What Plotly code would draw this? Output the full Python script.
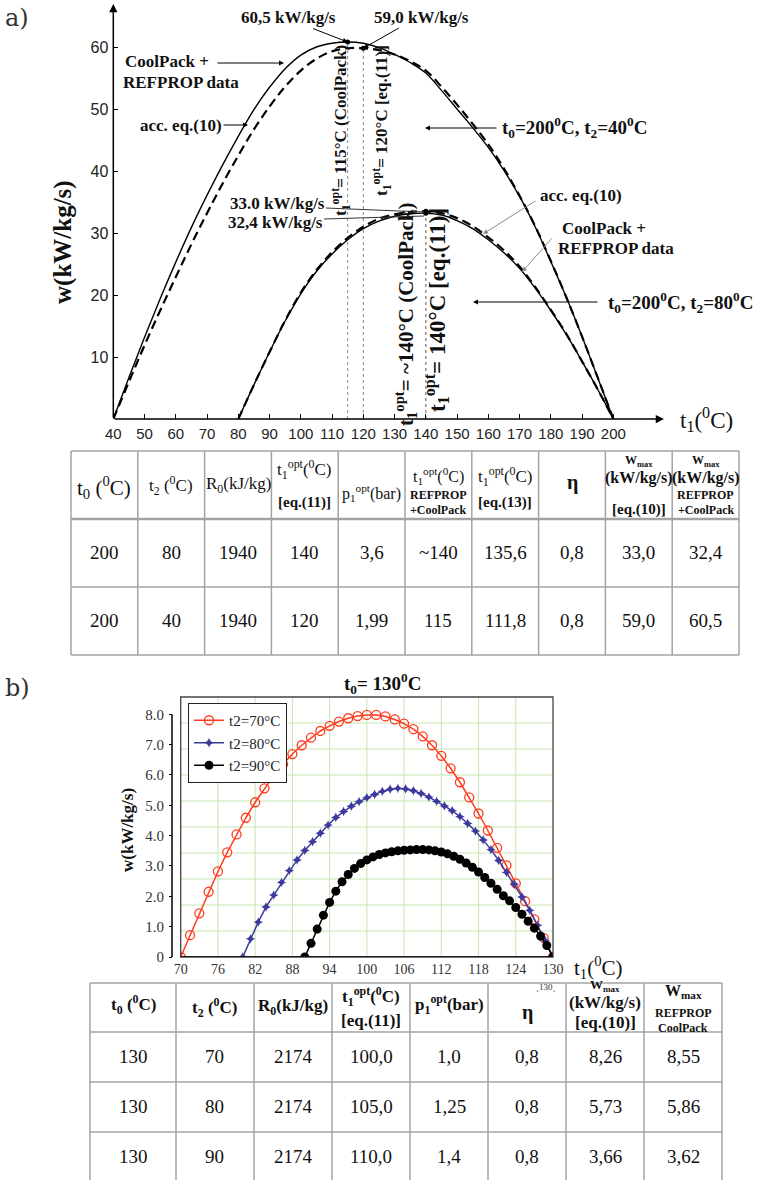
import plotly.graph_objects as go

W, H = 764, 1180
SERIF = "Liberation Serif"
SANS = "Liberation Sans"

# ---------------- panel a) data (read from the picture) ----------------
t1_a40 = [40, 45, 50, 55, 60, 65, 70, 75, 80, 85, 90, 95, 100, 105, 110, 115, 120,
          125, 130, 135, 140, 145, 150, 155, 160, 165, 170, 175, 180, 185, 190, 195, 200]
w_a40_coolpack = [0, 6.7, 13.2, 19.4, 25.3, 30.9, 36.1, 41.0, 45.6, 49.9, 53.5, 56.5, 58.7,
                  60.0, 60.6, 60.8, 60.6, 59.9, 58.8, 57.5, 55.8, 53.0, 50.0, 47.0, 43.8,
                  40.1, 35.9, 31.0, 25.4, 19.6, 13.3, 6.7, 0]
w_a40_eq10 = [0, 6.0, 11.9, 17.5, 22.9, 28.2, 33.2, 38.0, 42.5, 46.7, 50.4, 53.6, 56.2,
              58.1, 59.3, 59.8, 59.8, 59.5, 58.8, 57.7, 56.2, 53.6, 50.7, 47.6, 44.3,
              40.4, 36.0, 31.1, 25.5, 19.6, 13.3, 6.7, 0]
t1_a80 = [80, 85, 90, 95, 100, 105, 110, 115, 120, 125, 130, 135, 140, 145, 150, 155,
          160, 165, 170, 175, 180, 185, 190, 195, 200]
w_a80_coolpack = [0, 5.5, 10.8, 15.8, 20.2, 23.8, 26.6, 28.9, 30.7, 31.9, 32.7, 33.1, 33.2,
                  32.9, 32.0, 30.7, 28.9, 26.8, 24.3, 21.1, 17.5, 13.6, 9.3, 4.8, 0]
w_a80_eq10 = [0, 5.5, 10.8, 15.9, 20.4, 24.0, 26.9, 29.2, 31.0, 32.3, 33.0, 33.4, 33.5,
              33.2, 32.4, 31.1, 29.3, 27.2, 24.6, 21.3, 17.6, 13.7, 9.3, 4.8, 0]
t1_opt_coolpack = [115, 140]
w_max_coolpack = [60.8, 33.2]
t1_opt_eq11 = [120, 140]
w_max_eq10 = [59.8, 33.5]
x_ticks_a = [40, 50, 60, 70, 80, 90, 100, 110, 120, 130, 140, 150, 160, 170, 180, 190, 200]
y_ticks_a = [10, 20, 30, 40, 50, 60]

# ---------------- panel b) data ----------------
t_70 = [70, 71.5, 73, 74.5, 76, 77.5, 79, 80.5, 82, 83.5, 85, 86.5, 88, 89.5, 91, 92.5, 94,
        95.5, 97, 98.5, 100, 101.5, 103, 104.5, 106, 107.5, 109, 110.5, 112, 113.5, 115,
        116.5, 118, 119.5, 121, 122.5, 124, 125.5, 127, 128.5, 130]
w_70 = [0, 0.72, 1.44, 2.15, 2.82, 3.45, 4.04, 4.59, 5.1, 5.56, 5.98, 6.36, 6.69, 6.98,
        7.23, 7.45, 7.62, 7.76, 7.87, 7.94, 7.98, 7.98, 7.93, 7.83, 7.69, 7.51, 7.27, 6.98,
        6.63, 6.22, 5.76, 5.26, 4.73, 4.17, 3.6, 3.02, 2.43, 1.84, 1.24, 0.63, 0]
t_80 = [80, 81.25, 82.5, 83.75, 85, 86.25, 87.5, 88.75, 90, 91.25, 92.5, 93.75, 95, 96.25,
        97.5, 98.75, 100, 101.25, 102.5, 103.75, 105, 106.25, 107.5, 108.75, 110, 111.25,
        112.5, 113.75, 115, 116.25, 117.5, 118.75, 120, 121.25, 122.5, 123.75, 125, 126.25,
        127.5, 128.75, 130]
w_80 = [0, 0.6, 1.15, 1.65, 2.04, 2.46, 2.85, 3.2, 3.51, 3.8, 4.08, 4.35, 4.6, 4.8, 4.97,
        5.12, 5.25, 5.36, 5.46, 5.53, 5.56, 5.54, 5.48, 5.39, 5.27, 5.13, 4.98, 4.82, 4.63,
        4.4, 4.15, 3.86, 3.54, 3.18, 2.79, 2.4, 1.98, 1.54, 1.05, 0.54, 0]
t_90 = [90, 91, 92, 93, 94, 95, 96, 97, 98, 99, 100, 101, 102, 103, 104, 105, 106, 107, 108,
        109, 110, 111, 112, 113, 114, 115, 116, 117, 118, 119, 120, 121, 122, 123, 124, 125,
        126, 127, 128, 129, 130]
w_90 = [0, 0.45, 0.92, 1.38, 1.8, 2.17, 2.48, 2.72, 2.92, 3.08, 3.2, 3.3, 3.38, 3.43, 3.47,
        3.5, 3.52, 3.53, 3.54, 3.54, 3.53, 3.5, 3.46, 3.4, 3.32, 3.22, 3.1, 2.96, 2.8, 2.62,
        2.43, 2.23, 2.02, 1.85, 1.63, 1.41, 1.18, 0.95, 0.69, 0.38, 0]
series_b_names = ["t2=70°C", "t2=80°C", "t2=90°C"]
x_ticks_b = [70, 76, 82, 88, 94, 100, 106, 112, 118, 124, 130]
y_ticks_b = [0, 1, 2, 3, 4, 5, 6, 7, 8]
y_ticklabels_b = ["0", "1.0", "2.0", "3.0", "4.0", "5.0", "6.0", "7.0", "8.0"]
y_max_b = 8.57

# ---------------- tables ----------------
table_a_rows = [
    ["200", "80", "1940", "140", "3,6", "~140", "135,6", "0,8", "33,0", "32,4"],
    ["200", "40", "1940", "120", "1,99", "115", "111,8", "0,8", "59,0", "60,5"],
]
table_b_rows = [
    ["130", "70", "2174", "100,0", "1,0", "0,8", "8,26", "8,55"],
    ["130", "80", "2174", "105,0", "1,25", "0,8", "5,73", "5,86"],
    ["130", "90", "2174", "110,0", "1,4", "0,8", "3,66", "3,62"],
]


def PX(x):
    return x / W


def PY(y):
    return 1 - y / H


# pixel layout of panel a axes
A_X0, A_X1, A_XPER = 113.3, 665.0, 3.125
A_Y0, A_YTOP, A_YPER = 419.0, 5.0, 6.2


def tA(px):
    return 40 + (px - A_X0) / A_XPER


def wA(py):
    return (A_Y0 - py) / A_YPER


fig = go.Figure()

# ---- panel a curves ----
fig.add_trace(go.Scatter(x=t1_a40, y=w_a40_coolpack, mode="lines",
                         line=dict(color="black", width=1.4, shape="spline"),
                         showlegend=False, xaxis="x", yaxis="y"))
fig.add_trace(go.Scatter(x=t1_a40, y=w_a40_eq10, mode="lines",
                         line=dict(color="black", width=2.2, dash="9px,5px", shape="spline"),
                         showlegend=False, xaxis="x", yaxis="y"))
fig.add_trace(go.Scatter(x=t1_a80, y=w_a80_coolpack, mode="lines",
                         line=dict(color="black", width=1.4, shape="spline"),
                         showlegend=False, xaxis="x", yaxis="y"))
fig.add_trace(go.Scatter(x=t1_a80, y=w_a80_eq10, mode="lines",
                         line=dict(color="black", width=2.2, dash="9px,5px", shape="spline"),
                         showlegend=False, xaxis="x", yaxis="y"))
fig.add_trace(go.Scatter(x=t1_opt_coolpack + t1_opt_eq11, y=w_max_coolpack + w_max_eq10,
                         mode="markers", marker=dict(size=5, color="black"),
                         showlegend=False, xaxis="x", yaxis="y"))

# dotted verticals at optimum temperatures
for tx, wy in zip(t1_opt_coolpack + t1_opt_eq11, w_max_coolpack + w_max_eq10):
    fig.add_shape(type="line", xref="x", yref="y", x0=tx, x1=tx, y0=0, y1=wy,
                  line=dict(color="#8a8a8a", width=1, dash="dot"), layer="below")

# ---- panel b curves ----
RED, BLUE, BLK = "#ff3b1c", "#3d3a9e", "#000000"
fig.add_trace(go.Scatter(x=t_70, y=w_70, mode="lines+markers", name=series_b_names[0],
                         line=dict(color=RED, width=1.5),
                         marker=dict(symbol="circle-open", size=9, color=RED, line=dict(width=1.3)),
                         xaxis="x2", yaxis="y2"))
fig.add_trace(go.Scatter(x=t_80, y=w_80, mode="lines+markers", name=series_b_names[1],
                         line=dict(color=BLUE, width=1.5),
                         marker=dict(symbol="star-diamond", size=7, color=BLUE),
                         xaxis="x2", yaxis="y2"))
fig.add_trace(go.Scatter(x=t_90, y=w_90, mode="lines+markers", name=series_b_names[2],
                         line=dict(color=BLK, width=1.5),
                         marker=dict(symbol="circle", size=9, color=BLK),
                         xaxis="x2", yaxis="y2"))

# green grid (10 divisions each way) of panel b
for k in range(1, 10):
    gx = x_ticks_b[0] + k * (x_ticks_b[-1] - x_ticks_b[0]) / 10
    gy = k * y_max_b / 10
    fig.add_shape(type="line", xref="x2", yref="y2 domain", x0=gx, x1=gx, y0=0, y1=1,
                  line=dict(color="#c4e6b2", width=1), layer="below")
    fig.add_shape(type="line", xref="x2 domain", yref="y2", x0=0, x1=1, y0=gy, y1=gy,
                  line=dict(color="#c4e6b2", width=1), layer="below")
fig.add_shape(type="rect", xref="x2 domain", yref="y2 domain", x0=0, x1=1, y0=0, y1=1,
              line=dict(color="#444", width=1.3))
fig.add_shape(type="line", xref="x2 domain", yref="y2", x0=0, x1=1, y0=0, y1=0,
              line=dict(color="#000", width=1.6))
fig.add_shape(type="line", xref="paper", yref="y2", x0=PX(172), x1=PX(172), y0=0,
              y1=y_ticks_b[-1], line=dict(color="#000", width=1.5))

# ---- layout / axes ----
fig.update_layout(
    width=W, height=H, autosize=False, margin=dict(l=0, r=0, t=0, b=0, pad=0),
    paper_bgcolor="white", plot_bgcolor="white",
    font=dict(family=SERIF, color="#111"),
    xaxis=dict(domain=[PX(A_X0), PX(A_X1)], range=[40, tA(A_X1)], anchor="y",
               tickvals=x_ticks_a, ticks="inside", ticklen=5, tickwidth=1, tickcolor="black",
               showgrid=False, zeroline=False, showline=False, automargin=False,
               tickfont=dict(family=SANS, size=15, color="#222"), ticklabelstandoff=4),
    yaxis=dict(domain=[PY(A_Y0), PY(A_YTOP)], range=[0, wA(A_YTOP)], anchor="x",
               tickvals=y_ticks_a, ticks="inside", ticklen=5, tickwidth=1, tickcolor="black",
               showgrid=False, zeroline=False, showline=False, automargin=False,
               tickfont=dict(family=SANS, size=16, color="#222"), ticklabelstandoff=4),
    xaxis2=dict(domain=[PX(180.7), PX(553)], range=[70, 130], anchor="y2",
                tickvals=x_ticks_b, ticks="", showgrid=False, zeroline=False, showline=False,
                automargin=False,
                tickfont=dict(family=SERIF, size=14, color="#333"), ticklabelstandoff=2),
    yaxis2=dict(domain=[PY(957), PY(697)], range=[0, y_max_b], anchor="free",
                position=PX(172), tickvals=y_ticks_b, ticktext=y_ticklabels_b,
                ticks="outside", ticklen=3, tickcolor="#000", automargin=False,
                showgrid=False, zeroline=False, showline=False,
                tickfont=dict(family=SERIF, size=15, color="#333"), ticklabelstandoff=2),
    legend=dict(x=PX(188), y=PY(703), xanchor="left", yanchor="top", bgcolor="white",
                bordercolor="#222", borderwidth=1, tracegroupgap=0,
                font=dict(family=SERIF, size=15, color="#222")),
)


def txt(x, y, s, size, bold=False, angle=0, xanchor="center", color="#111", family=SERIF):
    fig.add_annotation(xref="paper", yref="paper", x=PX(x), y=PY(y),
                       text=f"<b>{s}</b>" if bold else s, showarrow=False,
                       font=dict(family=family, size=size, color=color),
                       xanchor=xanchor, yanchor="middle", textangle=angle)


def arrow(tx, ty, dx, dy, xref="x", yref="y", color="black", width=1, head=2, size=1.0):
    fig.add_annotation(x=tx, y=ty, xref=xref, yref=yref, ax=dx, ay=dy,
                       axref="pixel", ayref="pixel", text="", showarrow=True,
                       arrowhead=head, arrowsize=size, arrowwidth=width, arrowcolor=color)


def seg(x0, y0, x1, y1, color="#333", width=1):
    fig.add_shape(type="line", xref="paper", yref="paper", x0=PX(x0), x1=PX(x1),
                  y0=PY(y0), y1=PY(y1), line=dict(color=color, width=width))


# axes arrows of panel a
fig.add_annotation(x=tA(664), y=0, ax=40, ay=0, xref="x", yref="y", axref="x", ayref="y",
                   text="", showarrow=True, arrowhead=2, arrowsize=1.1, arrowwidth=1.5,
                   arrowcolor="black")
fig.add_annotation(x=40, y=wA(4), ax=40, ay=0, xref="x", yref="y", axref="x", ayref="y",
                   text="", showarrow=True, arrowhead=2, arrowsize=1.1, arrowwidth=1.5,
                   arrowcolor="black")

# panel labels
txt(17, 18, "a)", 24, family="DejaVu Serif", color="#333")
txt(17, 688, "b)", 24, family="DejaVu Serif", color="#333")

# axis titles panel a
txt(706, 420, "t<sub>1</sub>(<sup>0</sup>C)", 23)
txt(63, 242, "w(kW/kg/s)", 25, bold=True, angle=-90)

# annotations panel a
txt(288, 18, "60,5 kW/kg/s", 17, bold=True)
arrow(t1_opt_coolpack[0], w_max_coolpack[0], -36, -14)
txt(421, 18, "59,0 kW/kg/s", 17, bold=True)
arrow(t1_opt_eq11[0], w_max_eq10[0], 37, -21)

txt(123, 62, "CoolPack +", 17, bold=True, xanchor="left")
txt(121, 82, "REFPROP data", 17, bold=True, xanchor="left")
arrow(tA(284), wA(63), -68, 0)
txt(138, 126, "acc. eq.(10)", 17, bold=True, xanchor="left")
arrow(tA(248), wA(125), -26, 0)

txt(341, 131, "t<sub>1</sub><sup>opt</sup>= 115°C (CoolPack)", 17, bold=True, angle=-90)
txt(382, 121, "t<sub>1</sub><sup>opt</sup>= 120°C [eq.(11)]", 17, bold=True, angle=-90)
txt(405, 314, "t<sub>1</sub><sup>opt</sup>= ~140°C (CoolPack)", 21, bold=True, angle=-90)
txt(437, 310, "t<sub>1</sub><sup>opt</sup>= 140°C [eq.(11)]", 23, bold=True, angle=-90)

txt(500, 128, "t<sub>0</sub>=200<sup>0</sup>C, t<sub>2</sub>=40<sup>0</sup>C", 19, bold=True,
    xanchor="left")
arrow(tA(425), wA(128), 73, 0)
txt(606, 302, "t<sub>0</sub>=200<sup>0</sup>C, t<sub>2</sub>=80<sup>0</sup>C", 19, bold=True,
    xanchor="left")
arrow(tA(473), wA(302), 126, 0)

txt(538, 195, "acc. eq.(10)", 17, bold=True, xanchor="left")
arrow(tA(483), wA(234), 54, -34, color="#8c8c8c")
txt(560, 228, "CoolPack +", 17, bold=True, xanchor="left")
txt(556, 248, "REFPROP data", 17, bold=True, xanchor="left")
arrow(tA(522), wA(272), 31, -35, color="#8c8c8c")

txt(228, 203, "33.0 kW/kg/s", 17, bold=True, xanchor="left")
txt(226, 222, "32,4 kW/kg/s", 17, bold=True, xanchor="left")
seg(326, 208, 424, 212)
seg(324, 219, 424, 216)

# panel b titles
txt(382, 683, "t<sub>0</sub>= 130<sup>0</sup>C", 19, bold=True)
txt(598, 968, "t<sub>1</sub>(<sup>0</sup>C)", 21)
txt(127, 830, "w(kW/kg/s)", 17, bold=True, angle=-90)

# ---------------- table a ----------------
TA_L, TA_R = 71, 739
TA_ROWS = [451, 519, 587, 655]
ncol_a = len(table_a_rows[0])
cw_a = (TA_R - TA_L) / ncol_a
LC = "#a3a3a3"
for i, yy in enumerate(TA_ROWS):
    seg(TA_L, yy, TA_R, yy, color=LC, width=2.4 if i == 1 else 1.5)
for c in range(ncol_a + 1):
    xx = TA_L + c * cw_a
    seg(xx, TA_ROWS[0], xx, TA_ROWS[-1], color=LC, width=1.5)

header_a = [
    [("t<sub>0</sub> (<sup>0</sup>C)", 487, 21, False)],
    [("t<sub>2</sub> (<sup>0</sup>C)", 485, 17, False)],
    [("R<sub>0</sub>(kJ/kg)", 485, 17, False)],
    [("t<sub>1</sub><sup>opt</sup>(<sup>0</sup>C)", 469, 17, False), ("[eq.(11)]", 502, 15, True)],
    [("p<sub>1</sub><sup>opt</sup>(bar)", 493, 16, False)],
    [("t<sub>1</sub><sup>opt</sup>(<sup>0</sup>C)", 476, 16, False), ("REFPROP", 495, 12, True),
     ("+CoolPack", 510, 12, True)],
    [("t<sub>1</sub><sup>opt</sup>(<sup>0</sup>C)", 476, 17, False), ("[eq.(13)]", 502, 15, True)],
    [("η", 483, 20, True)],
    [("W<sub>max</sub>", 461, 12, True), ("(kW/kg/s)", 478, 16, True), ("[eq.(10)]", 509, 15, True)],
    [("W<sub>max</sub>", 461, 12, True), ("(kW/kg/s)", 478, 16, True), ("REFPROP", 495, 12, True),
     ("+CoolPack", 510, 12, True)],
]
for c, items in enumerate(header_a):
    cx = TA_L + (c + 0.5) * cw_a
    for s, yy, sz, b in items:
        txt(cx, yy, s, sz, bold=b)
for r, row in enumerate(table_a_rows):
    cy = (TA_ROWS[r + 1] + TA_ROWS[r + 2]) / 2 - 1
    for c, v in enumerate(row):
        txt(TA_L + (c + 0.5) * cw_a, cy, v, 19)

# ---------------- table b ----------------
TB_COLS = [90, 176, 254, 332, 410, 488, 566, 644, 722]
TB_ROWS = [983, 1032, 1082, 1132, 1182]
for yy in TB_ROWS[:-1]:
    seg(TB_COLS[0], yy, TB_COLS[-1], yy, color=LC, width=1.5)
for xx in TB_COLS:
    seg(xx, TB_ROWS[0], xx, H, color=LC, width=1.5)

header_b = [
    [("t<sub>0</sub> (<sup>0</sup>C)", 1005, 17)],
    [("t<sub>2</sub> (<sup>0</sup>C)", 1007, 17)],
    [("R<sub>0</sub>(kJ/kg)", 1007, 17)],
    [("t<sub>1</sub><sup>opt</sup>(<sup>0</sup>C)", 996, 17), ("[eq.(11)]", 1020, 17)],
    [("p<sub>1</sub><sup>opt</sup>(bar)", 1005, 17)],
    [("η", 1012, 20)],
    [("W<sub>max</sub>", 985, 13), ("(kW/kg/s)", 1002, 17), ("[eq.(10)]", 1022, 17)],
    [("W<sub>max</sub>", 991, 16), ("REFPROP", 1013, 12), ("CoolPack", 1028, 12)],
]
for c, items in enumerate(header_b):
    cx = (TB_COLS[c] + TB_COLS[c + 1]) / 2
    for s, yy, sz in items:
        txt(cx, yy, s, sz, bold=True)
txt(546, 987, "ˎ130ˎ", 9, color="#333")
for r, row in enumerate(table_b_rows):
    cy = (TB_ROWS[r + 1] + TB_ROWS[r + 2]) / 2 - 1
    for c, v in enumerate(row):
        txt((TB_COLS[c] + TB_COLS[c + 1]) / 2, cy, v, 19)

fig.write_html("out.html", config={"displayModeBar": False},
               post_script="document.body.style.margin='0';document.body.style.padding='0';")
